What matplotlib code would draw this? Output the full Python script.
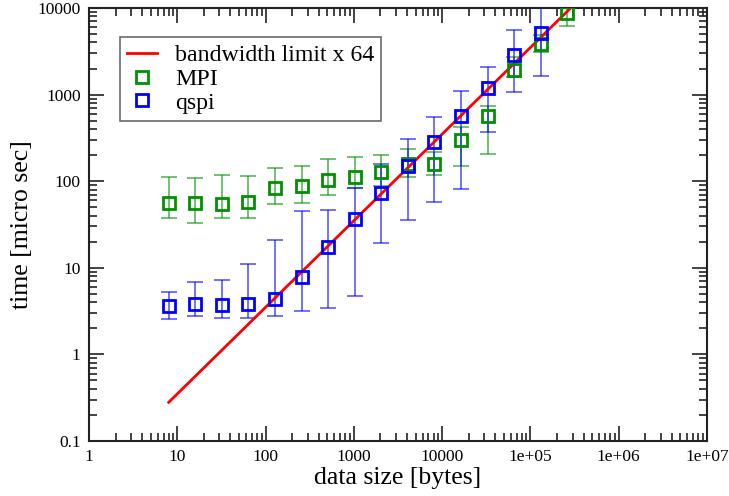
import matplotlib
matplotlib.use("Agg")
import matplotlib.pyplot as plt
from matplotlib.ticker import FixedLocator, FixedFormatter, LogLocator, NullFormatter
import numpy as np

plt.rcParams['font.family'] = ['Liberation Serif', 'DejaVu Serif']

# data size in bytes
mpi_x = [8, 16, 32, 64, 128, 256, 512, 1024, 2048, 4096, 8192, 16384, 32768, 65536, 131072, 262144]
mpi_y = [56, 56, 55, 57, 84, 89, 103, 113, 129, 160, 160, 299, 570, 1930, 3850, 8700]
mpi_lo = [37.6, 32.6, 38, 38, 54.6, 56.5, 68.7, 83, 88, 113, 118, 151, 206, 1590, 3080, 6240]
mpi_hi = [112, 109, 117, 114, 141, 150, 182, 192, 199, 233, 215, 419, 738, 2700, 4900, 12000]

qspi_x = [8, 16, 32, 64, 128, 256, 512, 1024, 2048, 4096, 8192, 16384, 32768, 65536, 131072]
qspi_y = [3.65, 3.82, 3.72, 3.8, 4.4, 7.9, 17.5, 36.6, 73.6, 150, 286, 566, 1190, 2870, 5100]
qspi_lo = [2.54, 2.75, 2.63, 2.6, 2.77, 3.2, 3.4, 4.72, 19.3, 35.6, 57.5, 80.6, 370, 1064, 1625]
qspi_hi = [5.3, 6.9, 7.2, 11.1, 20.9, 45, 46.5, 82.8, 158, 305, 556, 1092, 2100, 5570, 15000]

bw_x = [8, 1048576]
bw_y = [0.28, 36700]

xticks = [1, 10, 100, 1000, 10000, 1e5, 1e6, 1e7]
xticklabels = ["1", "10", "100", "1000", "10000", "1e+05", "1e+06", "1e+07"]
yticks = [0.1, 1, 10, 100, 1000, 10000]
yticklabels = ["0.1", "1", "10", "100", "1000", "10000"]

green = '#009000'
blue = '#0000ff'
red = '#ff0000'

fig = plt.figure(figsize=(7.29, 4.96), dpi=100)
ax = fig.add_axes([89/729, 1-441/496, (707-89)/729, (441-8)/496])
ax.set_xscale('log')
ax.set_yscale('log')

ax.plot(bw_x, bw_y, color=red, lw=2, label='bandwidth limit x 64', zorder=3)

def draw(x, y, lo, hi, c, label):
    y = np.array(y); lo = np.array(lo); hi = np.array(hi)
    err = [y - lo, hi - y]
    ax.errorbar(x, y, yerr=err, fmt='none', ecolor=c, elinewidth=1.2,
                capsize=6, capthick=1.2, alpha=0.65, zorder=2)
    ax.plot(x, y, linestyle='none', marker='s', markersize=8, markerfacecolor='none',
            markeredgecolor=c, markeredgewidth=2, label=label, zorder=4)

draw(mpi_x, mpi_y, mpi_lo, mpi_hi, green, 'MPI')
draw(qspi_x, qspi_y, qspi_lo, qspi_hi, blue, 'qspi')

ax.set_xlim(1, 1e7)
ax.set_ylim(0.1, 10000)

ax.xaxis.set_major_locator(FixedLocator(xticks))
ax.xaxis.set_major_formatter(FixedFormatter(xticklabels))
ax.yaxis.set_major_locator(FixedLocator(yticks))
ax.yaxis.set_major_formatter(FixedFormatter(yticklabels))
ax.xaxis.set_minor_locator(LogLocator(base=10, subs=np.arange(2, 10), numticks=20))
ax.yaxis.set_minor_locator(LogLocator(base=10, subs=np.arange(2, 10), numticks=20))
ax.xaxis.set_minor_formatter(NullFormatter())
ax.yaxis.set_minor_formatter(NullFormatter())

ax.tick_params(which='both', direction='in', top=True, right=True, width=1.2, colors='#222222')
ax.tick_params(which='major', length=11, labelsize=12.5, pad=6, labelcolor='black')
ax.tick_params(which='minor', length=5.5)
for s in ax.spines.values():
    s.set_linewidth(1.5)
    s.set_color('#222222')

ax.set_xlabel('data size [bytes]', fontsize=18.5, labelpad=1)
ax.set_ylabel('time [micro sec]', fontsize=18.5, labelpad=3)

leg = ax.legend(loc='upper left', bbox_to_anchor=(0.05, 0.932), fontsize=17.2,
                frameon=True, fancybox=False, borderaxespad=0, handlelength=1.25,
                handletextpad=0.75, labelspacing=0.08, borderpad=0.3)
leg.get_frame().set_edgecolor('#444444')
leg.get_frame().set_linewidth(1.2)

fig.savefig('out.png', dpi=100)
